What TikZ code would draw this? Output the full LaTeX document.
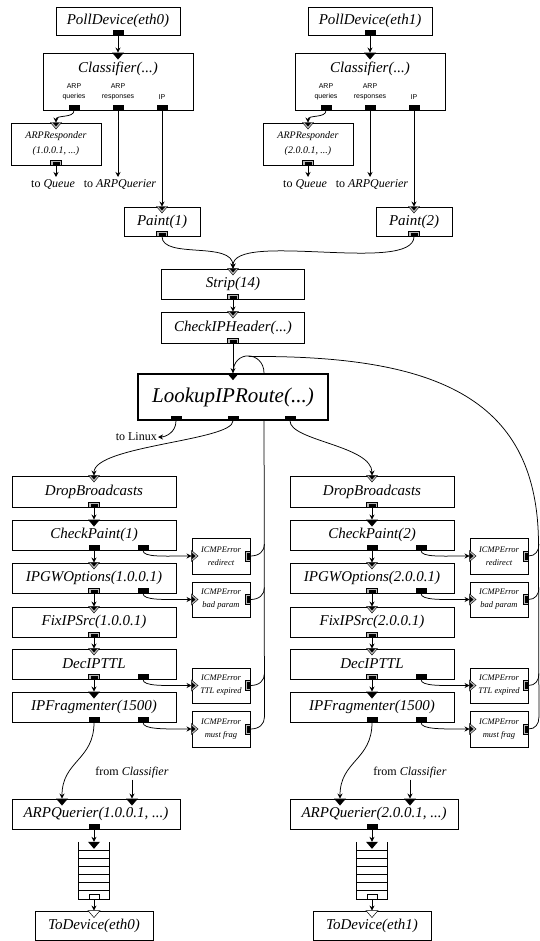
\documentclass[tikz,border=0pt]{standalone}
\usepackage{fontspec}
\setmainfont{Liberation Serif}
\newfontfamily\portsans{Liberation Sans}
\usetikzlibrary{arrows.meta,calc}
\pgfdeclarelayer{bg}
\pgfsetlayers{bg,main}

\tikzset{
  elem/.style={draw, line width=0.9pt, fill=white, inner sep=0pt,
    font=\fontsize{15}{18}\selectfont\itshape},
  bigelem/.style={elem, line width=1.7pt, font=\fontsize{21}{24}\selectfont\itshape},
  smallelem/.style={elem, align=center, font=\fontsize{10}{15}\selectfont\itshape},
  err/.style={elem, align=center, minimum width=58pt,
    font=\fontsize{8.5}{13}\selectfont\itshape},
  note/.style={inner sep=1pt, font=\fontsize{12}{14}\selectfont},
  plabel/.style={inner sep=0pt, align=center, font=\portsans\fontsize{7}{10.5}\selectfont},
  conn/.style={line width=0.75pt, -{Stealth[length=5pt,width=5pt]}},
  wire/.style={line width=0.75pt},
  % ports: outputs sit on the bottom edge, inputs hang from the top edge
  pushout/.pic={\fill (-5.5,-5) rectangle (5.5,0);},
  agout/.pic={\filldraw[fill=gray!55,line width=0.4pt] (-5.5,-5.5) rectangle (5.5,0);
              \fill (-3.5,-3.8) rectangle (3.5,0);},
  pullout/.pic={\filldraw[fill=white,line width=0.6pt] (-5,-5) rectangle (5,0);},
  pushin/.pic={\fill (-6,0) -- (6,0) -- (0,7) -- cycle;},
  agin/.pic={\filldraw[fill=gray!55,line width=0.4pt] (-5.5,0) -- (5.5,0) -- (0,6.5) -- cycle;
             \fill (-3.5,0) -- (3.5,0) -- (0,3.8) -- cycle;},
  pullin/.pic={\filldraw[fill=white,line width=0.5pt] (-6,0) -- (6,0) -- (0,7) -- cycle;},
  sidein/.pic={\filldraw[fill=gray!55,line width=0.4pt] (0,-5.5) -- (6.5,0) -- (0,5.5) -- cycle;
               \fill (0,-3.5) -- (3.8,0) -- (0,3.5) -- cycle;},
  sideout/.pic={\filldraw[fill=gray!55,line width=0.4pt] (-5,-5) rectangle (0,5);
                \fill (-3.5,-3.5) rectangle (0,3.5);},
}

\begin{document}
\begin{tikzpicture}[x=1pt,y=-1pt]
\useasboundingbox (0,0) rectangle (540,941);

% ---- input side: one column per interface ----
\foreach \s/\dx/\eth/\ip/\n in {0/0/eth0/1.0.0.1/1, 1/252/eth1/2.0.0.1/2} {
  \begin{scope}[xshift=\dx pt]
    \node[elem, minimum width=124pt, minimum height=28pt] (pd\s) at (118,21) {PollDevice(\eth)};
    \node[elem, minimum width=150pt, minimum height=57pt] (cls\s) at (118,81.5) {};
    \node[inner sep=0pt, font=\fontsize{15}{18}\selectfont\itshape] (clt\s) at (118,69) {Classifier(...)};
    \node[plabel] (cla\s) at (74,92) {ARP\\queries};
    \node[plabel] (clb\s) at (118,92) {ARP\\responses};
    \node[plabel] (clc\s) at (162,97) {IP};
    \node[smallelem, minimum width=90pt, minimum height=42pt] (arp\s) at (56,144) {ARPResponder\\(\ip, ...)};
    \node[elem, minimum width=76pt, minimum height=29pt] (pt\s) at (162,221.5) {Paint(\n)};
    \node[note, anchor=north] (tq\s) at (53,178) {to \textit{Queue}};
    \node[note, anchor=north] (ta\s) at (120,178) {to \textit{ARPQuerier}};
    \coordinate (tqe\s) at (56,177);
    \coordinate (tae\s) at (118,177);
  \end{scope}
  \draw[conn] (pd\s.south) -- (cls\s.north);
  \draw[conn] ([xshift=-44pt]cls\s.south) .. controls +(0,8) and +(0,-8) .. (arp\s.north);
  \draw[conn] (cls\s.south) -- (tae\s);
  \draw[conn] ([xshift=44pt]cls\s.south) -- (pt\s.north);
  \draw[conn] (arp\s.south) -- (tqe\s);
  \pic at (pd\s.south) {pushout};
  \pic at (cls\s.north) {pushin};
  \pic at ([xshift=-44pt]cls\s.south) {pushout};
  \pic at (cls\s.south) {pushout};
  \pic at ([xshift=44pt]cls\s.south) {pushout};
  \pic at (arp\s.north) {agin};
  \pic at (arp\s.south) {agout};
  \pic at (pt\s.north) {agin};
  \pic at (pt\s.south) {agout};
}

% ---- shared part ----
\node[elem, minimum width=143pt, minimum height=30pt] (strip) at (233,284) {Strip(14)};
\node[elem, minimum width=143pt, minimum height=31pt] (chk) at (233,327.5) {CheckIPHeader(...)};
\node[bigelem, minimum width=190pt, minimum height=46pt] (lookup) at (233,397) {LookupIPRoute(...)};
\node[note, anchor=east] (lin) at (158,437) {to Linux};

\draw[conn] (pt0.south) .. controls +(0,23) and +(0,-28) .. (strip.north);
\draw[conn] (pt1.south) .. controls +(0,38) and +(0,-38) .. (strip.north);
\draw[conn] (strip.south) -- (chk.north);
\draw[conn] (chk.south) -- (lookup.north);
\pic at (strip.north) {agin};
\pic at (strip.south) {agout};
\pic at (chk.north) {agin};
\pic at (chk.south) {agout};
\pic at (lookup.north) {pushin};

% ---- output side: one column per interface ----
\foreach \s/\dx/\eth/\ip/\n in {0/0/eth0/1.0.0.1/1, 1/278/eth1/2.0.0.1/2} {
  \begin{scope}[xshift=\dx pt]
    \node[elem, minimum width=164pt, minimum height=31pt] (drop\s) at (94,491.5) {DropBroadcasts};
    \node[elem, minimum width=164pt, minimum height=30pt] (cp\s) at (94,535) {CheckPaint(\n)};
    \node[elem, minimum width=164pt, minimum height=30pt] (gw\s) at (94,578) {IPGWOptions(\ip)};
    \node[elem, minimum width=164pt, minimum height=30pt] (fix\s) at (94,622) {FixIPSrc(\ip)};
    \node[elem, minimum width=164pt, minimum height=30pt] (dec\s) at (94,664) {DecIPTTL};
    \node[elem, minimum width=164pt, minimum height=30pt] (frag\s) at (94,707) {IPFragmenter(1500)};
    \node[err, minimum height=36pt] (ea\s) at (221,556) {ICMPError\\redirect};
    \node[err, minimum height=35pt] (eb\s) at (221,599.5) {ICMPError\\bad param};
    \node[err, minimum height=35pt] (ec\s) at (221,685.5) {ICMPError\\TTL expired};
    \node[err, minimum height=36pt] (ed\s) at (221,729) {ICMPError\\must frag};
    \node[note] (fc\s) at (132,773) {from \textit{Classifier}};
    \node[elem, minimum width=168pt, minimum height=30pt] (aq\s) at (96,814) {ARPQuerier(\ip, ...)};
    \node[minimum width=30pt, minimum height=57pt, inner sep=0pt] (q\s) at (94,870.5) {};
    \node[elem, minimum width=118pt, minimum height=29pt] (td\s) at (94,925.5) {ToDevice(\eth)};
  \end{scope}
  % queue
  \draw[line width=0.8pt] (q\s.north west) -- (q\s.south west) -- (q\s.south east) -- (q\s.north east);
  \foreach \k in {1,...,6}
    \draw[line width=0.6pt] ($(q\s.north west)+(0,8.15*\k)$) -- ++(30,0);
  % main chain
  \draw[conn] (drop\s.south) -- (cp\s.north);
  \draw[conn] (cp\s.south) -- (gw\s.north);
  \draw[conn] (gw\s.south) -- (fix\s.north);
  \draw[conn] (fix\s.south) -- (dec\s.north);
  \draw[conn] (dec\s.south) -- (frag\s.north);
  \draw[conn] (frag\s.south) .. controls +(0,38) and +(0,-38) .. ([xshift=-34pt]aq\s.north);
  \draw[conn] (fc\s.south) -- ([xshift=36pt]aq\s.north);
  \draw[conn] ([xshift=-2pt]aq\s.south) -- (q\s.north);
  \draw[conn] (q\s.south) -- (td\s.north);
  % error branches
  \draw[conn] ([xshift=49pt]cp\s.south) .. controls +(0,7) and +(-28,0) .. (ea\s.west);
  \draw[conn] ([xshift=49pt]gw\s.south) .. controls +(0,7) and +(-28,0) .. (eb\s.west);
  \draw[conn] ([xshift=49pt]dec\s.south) .. controls +(0,7) and +(-28,0) .. (ec\s.west);
  \draw[conn] ([xshift=49pt]frag\s.south) .. controls +(0,7) and +(-28,0) .. (ed\s.west);
  % ports
  \pic at (drop\s.north) {agin};
  \pic at (drop\s.south) {agout};
  \pic at (cp\s.north) {pushin};
  \pic at (cp\s.south) {pushout};
  \pic at ([xshift=49pt]cp\s.south) {pushout};
  \pic at (gw\s.north) {agin};
  \pic at (gw\s.south) {agout};
  \pic at ([xshift=49pt]gw\s.south) {pushout};
  \pic at (fix\s.north) {agin};
  \pic at (fix\s.south) {agout};
  \pic at (dec\s.north) {agin};
  \pic at (dec\s.south) {agout};
  \pic at ([xshift=49pt]dec\s.south) {pushout};
  \pic at (frag\s.north) {pushin};
  \pic at (frag\s.south) {pushout};
  \pic at ([xshift=49pt]frag\s.south) {pushout};
  \foreach \e in {ea,eb,ec,ed} {
    \pic at (\e\s.west) {sidein};
    \pic at (\e\s.east) {sideout};
  }
  \pic at ([xshift=-34pt]aq\s.north) {pushin};
  \pic at ([xshift=36pt]aq\s.north) {pushin};
  \pic at ([xshift=-2pt]aq\s.south) {pushout};
  \pic at (q\s.north) {pushin};
  \pic at (q\s.south) {pullout};
  \pic at (td\s.north) {pullin};
}

% routing outputs
\draw[conn] ([xshift=-57pt]lookup.south) .. controls +(0,12) and +(7,0) .. (lin.east);
\draw[conn] (lookup.south) .. controls +(0,20) and +(0,-30) .. (drop0.north);
\draw[conn] ([xshift=57pt]lookup.south) .. controls +(0,20) and +(0,-30) .. (drop1.north);
\pic at ([xshift=-57pt]lookup.south) {pushout};
\pic at (lookup.south) {pushout};
\pic at ([xshift=57pt]lookup.south) {pushout};

% ICMP errors fed back into the route lookup
\coordinate (lbt) at ([xshift=31pt]lookup.north);
\coordinate (looptop) at (248.5,356.5);
\coordinate (rbus) at (538.5,545);
\begin{pgfonlayer}{bg}
  \foreach \e in {ea,eb,ec,ed} {
    \draw[wire] (\e0.east) .. controls +(9,0) and +(0,7) .. ($(\e0.east)+(14,-12)$);
    \draw[wire] (\e1.east) .. controls +(7,0) and +(0,7) .. ($(\e1.east)+(10.5,-12)$);
  }
  \draw[wire] ($(ed0.east)+(14,-12)$) -- (lbt) .. controls +(0,-22) and +(0,-24) .. (lookup.north);
  \draw[wire] (looptop) .. controls (440,355) and (538.5,400) .. (rbus) -- ($(ed1.east)+(10.5,-12)$);
\end{pgfonlayer}
\end{tikzpicture}
\end{document}
